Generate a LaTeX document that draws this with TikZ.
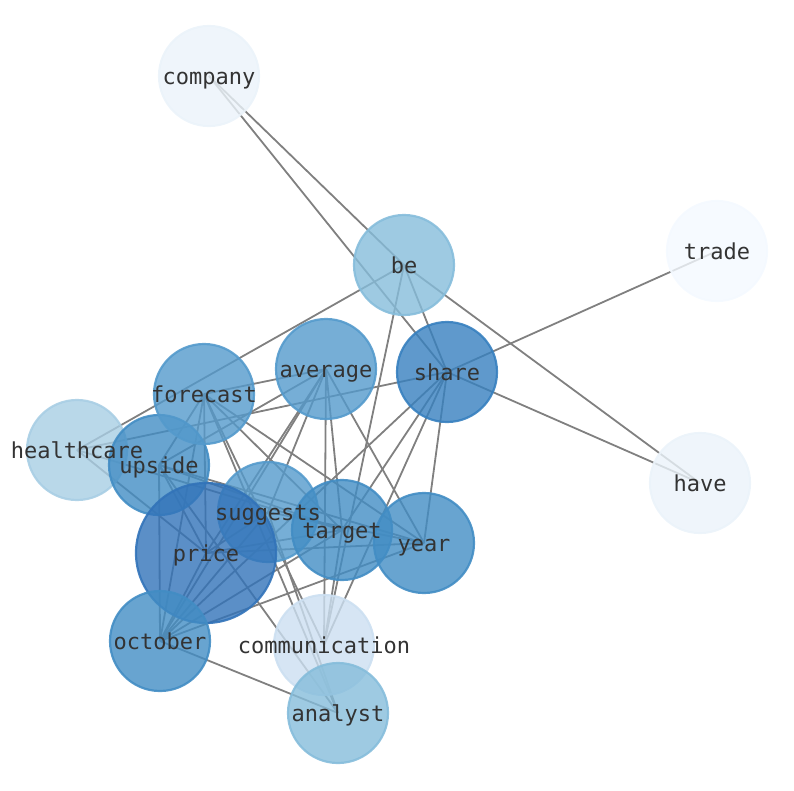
\documentclass[tikz,border=0pt]{standalone}
\usepackage{fontspec}
\usepackage{tikz}
\usepackage{xcolor}
\usetikzlibrary{backgrounds}
\newfontfamily\wordfont{DejaVu Sans Mono}

\definecolor{tonePrice}{RGB}{50,115,185}
\definecolor{toneShare}{RGB}{55,128,191}
\definecolor{toneDark}{RGB}{66,141,196}
\definecolor{toneMid}{RGB}{84,154,204}
\definecolor{toneLight}{RGB}{134,189,219}
\definecolor{toneHealth}{RGB}{168,206,228}
\definecolor{tonePale}{RGB}{204,223,241}
\definecolor{toneFaint}{RGB}{235,243,250}
\definecolor{toneWhite}{RGB}{244,249,255}

\tikzset{
    word/.style={circle, draw=#1, fill=#1, line width=2.2pt, minimum size=100pt, inner sep=0pt, fill opacity=0.8, draw opacity=0.9},
    word label/.style={font=\wordfont\fontsize{22}{22}\selectfont, text=black!80, inner sep=0pt, text height=16pt, text depth=0pt},
    link/.style={draw=black!50, line width=1.8pt}
}

\begin{document}
\begin{tikzpicture}[x=1pt, y=-1pt]
    \useasboundingbox (0,0) rectangle (794,790);

    % word discs
    \node[word=toneFaint] (company) at (209, 76) {};
    \node[word=toneWhite] (trade) at (717, 251) {};
    \node[word=toneFaint] (have) at (700, 483) {};
    \node[word=toneLight] (be) at (404, 265) {};
    \node[word=toneHealth] (healthcare) at (77, 450) {};
    \node[word=toneDark] (upside) at (159, 465) {};
    \node[word=toneMid] (forecast) at (204, 394) {};
    \node[word=toneMid] (average) at (326, 369) {};
    \node[word=toneShare] (share) at (447, 372) {};
    \node[word=toneMid] (suggests) at (268, 512) {};
    \node[word=toneDark] (target) at (342, 530) {};
    \node[word=toneDark] (year) at (424, 543) {};
    \node[word=tonePrice, minimum size=140pt] (price) at (206, 553) {};
    \node[word=toneDark] (october) at (160, 641) {};
    \node[word=tonePale] (communication) at (324, 645) {};
    \node[word=toneLight] (analyst) at (338, 713) {};

    % co-occurrence links
    \begin{scope}[on background layer]
        \draw[link] (company.center) -- (be.center);
        \draw[link] (company.center) -- (share.center);
        \draw[link] (be.center) -- (have.center);
        \draw[link] (be.center) -- (share.center);
        \draw[link] (be.center) -- (healthcare.center);
        \draw[link] (be.center) -- (communication.center);
        \draw[link] (share.center) -- (trade.center);
        \draw[link] (share.center) -- (have.center);
        \draw[link] (share.center) -- (healthcare.center);
        \draw[link] (share.center) -- (target.center);
        \draw[link] (share.center) -- (year.center);
        \draw[link] (share.center) -- (communication.center);
        \draw[link] (share.center) -- (october.center);
        \draw[link] (average.center) -- (forecast.center);
        \draw[link] (average.center) -- (upside.center);
        \draw[link] (average.center) -- (price.center);
        \draw[link] (average.center) -- (october.center);
        \draw[link] (average.center) -- (suggests.center);
        \draw[link] (average.center) -- (target.center);
        \draw[link] (average.center) -- (year.center);
        \draw[link] (average.center) -- (communication.center);
        \draw[link] (forecast.center) -- (upside.center);
        \draw[link] (forecast.center) -- (price.center);
        \draw[link] (forecast.center) -- (october.center);
        \draw[link] (forecast.center) -- (target.center);
        \draw[link] (forecast.center) -- (year.center);
        \draw[link] (forecast.center) -- (analyst.center);
        \draw[link] (forecast.center) -- (communication.center);
        \draw[link] (healthcare.center) -- (price.center);
        \draw[link] (healthcare.center) -- (target.center);
        \draw[link] (upside.center) -- (october.center);
        \draw[link] (upside.center) -- (price.center);
        \draw[link] (upside.center) -- (target.center);
        \draw[link] (upside.center) -- (year.center);
        \draw[link] (upside.center) -- (analyst.center);
        \draw[link] (price.center) -- (suggests.center);
        \draw[link] (price.center) -- (target.center);
        \draw[link] (price.center) -- (year.center);
        \draw[link] (price.center) -- (october.center);
        \draw[link] (october.center) -- (suggests.center);
        \draw[link] (october.center) -- (target.center);
        \draw[link] (october.center) -- (year.center);
        \draw[link] (october.center) -- (analyst.center);
        \draw[link] (suggests.center) -- (year.center);
        \draw[link] (suggests.center) -- (analyst.center);
        \draw[link] (target.center) -- (communication.center);
    \end{scope}

    % words
    \node[word label] (company text) at (company) {company};
    \node[word label] (trade text) at (trade) {trade};
    \node[word label] (have text) at (have) {have};
    \node[word label] (be text) at (be) {be};
    \node[word label] (healthcare text) at (healthcare) {healthcare};
    \node[word label] (upside text) at (upside) {upside};
    \node[word label] (forecast text) at (forecast) {forecast};
    \node[word label] (average text) at (average) {average};
    \node[word label] (share text) at (share) {share};
    \node[word label] (suggests text) at (suggests) {suggests};
    \node[word label] (target text) at (target) {target};
    \node[word label] (year text) at (year) {year};
    \node[word label] (price text) at (price) {price};
    \node[word label] (october text) at (october) {october};
    \node[word label] (communication text) at (communication) {communication};
    \node[word label] (analyst text) at (analyst) {analyst};
\end{tikzpicture}
\end{document}
